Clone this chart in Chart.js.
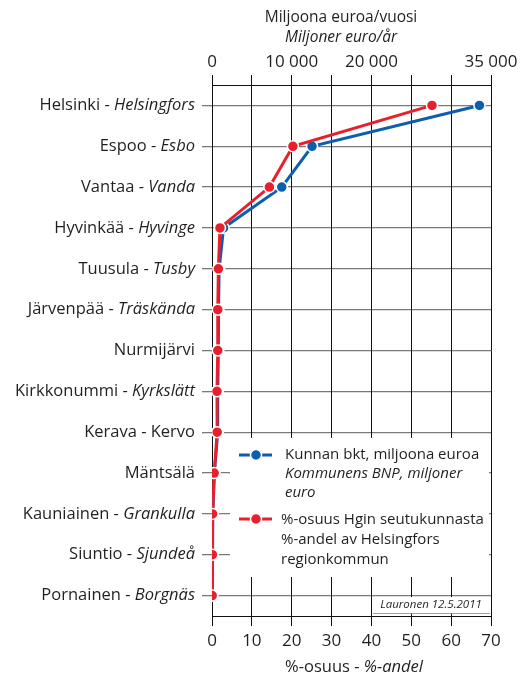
<!DOCTYPE html>
<html>
<head>
<meta charset="utf-8">
<script src="https://cdn.jsdelivr.net/npm/chart.js@4.4.1/dist/chart.umd.min.js"></script>
<style>
  html, body { margin: 0; padding: 0; background: #fff; }
  #wrap { width: 531px; height: 677px; position: relative; }
</style>
</head>
<body>
<div id="wrap"><canvas id="chart"></canvas></div>
<script>
// Kunnat (suomi + ruotsi)
const namesFi = ['Helsinki - ', 'Espoo - ', 'Vantaa - ', 'Hyvinkää - ', 'Tuusula - ', 'Järvenpää - ',
    'Nurmijärvi', 'Kirkkonummi - ', 'Kerava - Kervo', 'Mäntsälä', 'Kauniainen - ', 'Siuntio - ', 'Pornainen - '];
const namesSv = ['Helsingfors', 'Esbo', 'Vanda', 'Hyvinge', 'Tusby', 'Träskända',
    '', 'Kyrkslätt', '', '', 'Grankulla', 'Sjundeå', 'Borgnäs'];

// Kunnan bkt, milj. euroa (yläakseli)
const gdpValues = [33550, 12550, 8750, 1450, 900, 820, 800, 720, 720, 300, 100, 60, 40];
// %-osuus seutukunnasta (alaakseli)
const shareValues = [55.2, 20.3, 14.4, 2.0, 1.6, 1.45, 1.45, 1.25, 1.3, 0.55, 0.15, 0.1, 0.05];

const topTickLabels = [0, 10000, 20000, 35000];
const bottomTicks = [0, 10, 20, 30, 40, 50, 60, 70];

const BLUE = '#0c5fae';
const RED = '#e81f2c';
const TEXT = '#231f20';
const FONT = "'Open Sans', sans-serif";

const fmt = v => String(v).replace(/\B(?=(\d{3})+(?!\d))/g, ' ');

const labels = namesFi.map((f, i) => f + namesSv[i]);

// Extra text + legend drawn by hand (mixed italic)
const extras = {
    id: 'extras',
    beforeDatasetsDraw(chart) {
        const ctx = chart.ctx;
        ctx.save();
        ctx.fillStyle = '#fff';
        ctx.fillRect(230, 438, 259, 139);           // legend box
        ctx.fillRect(373, 597, 117, 16);            // signature box
        ctx.strokeStyle = '#888';
        ctx.lineWidth = 0.8;
        ctx.beginPath();
        ctx.moveTo(373, 613.5);
        ctx.lineTo(490, 613.5);
        ctx.stroke();
        ctx.restore();
    },
    afterDraw(chart) {
        const ctx = chart.ctx;
        const y = chart.scales.y;
        ctx.save();
        ctx.fillStyle = TEXT;
        ctx.textBaseline = 'middle';

        // category labels
        ctx.textAlign = 'right';
        labels.forEach((l, i) => {
            const py = y.getPixelForValue(i);
            ctx.font = 'italic 16.5px ' + FONT;
            const w = ctx.measureText(namesSv[i]).width;
            ctx.fillText(namesSv[i], 195, py);
            ctx.font = '16.5px ' + FONT;
            ctx.fillText(namesFi[i], 195 - w, py);
        });

        // axis titles
        ctx.textAlign = 'center';
        ctx.font = '15.5px ' + FONT;
        ctx.fillText('Miljoona euroa/vuosi', 341, 18);
        ctx.font = 'italic 15.5px ' + FONT;
        ctx.fillText('Miljoner euro/år', 341, 38);

        ctx.textAlign = 'left';
        const a = '%-osuus - ';
        ctx.font = 'italic 16.5px ' + FONT;
        const bw = ctx.measureText('%-andel').width;
        ctx.font = '16.5px ' + FONT;
        const aw = ctx.measureText(a).width;
        const x0 = 354 - (aw + bw) / 2;
        ctx.fillText(a, x0, 667);
        ctx.font = 'italic 16.5px ' + FONT;
        ctx.fillText('%-andel', x0 + aw, 667);

        // signature
        ctx.textAlign = 'center';
        ctx.font = 'italic 11.5px ' + FONT;
        ctx.fillText('Lauronen 12.5.2011', 431, 605);

        // legend
        const sym = (cy, col) => {
            ctx.strokeStyle = col;
            ctx.lineWidth = 3;
            ctx.beginPath();
            ctx.moveTo(239, cy);
            ctx.lineTo(272, cy);
            ctx.stroke();
            ctx.beginPath();
            ctx.arc(256, cy, 5.5, 0, Math.PI * 2);
            ctx.fillStyle = col;
            ctx.fill();
            ctx.strokeStyle = '#fff';
            ctx.lineWidth = 1.5;
            ctx.stroke();
        };
        sym(455, BLUE);
        sym(519, RED);
        ctx.fillStyle = TEXT;
        ctx.textAlign = 'left';
        ctx.font = '15px ' + FONT;
        ctx.fillText('Kunnan bkt, miljoona euroa', 285, 455);
        ctx.font = 'italic 15px ' + FONT;
        ctx.fillText('Kommunens BNP, miljoner', 285, 474);
        ctx.fillText('euro', 285, 493);
        ctx.font = '15px ' + FONT;
        ctx.fillText('%-osuus Hgin seutukunnasta', 281, 520);
        ctx.fillText('%-andel av Helsingfors', 281, 540);
        ctx.fillText('regionkommun', 281, 560);
        ctx.restore();
    }
};

new Chart(document.getElementById('chart'), {
    type: 'line',
    data: {
        labels: labels,
        datasets: [
            {
                label: 'Kunnan bkt, miljoona euroa',
                data: gdpValues,
                xAxisID: 'x2',
                borderColor: BLUE,
                backgroundColor: BLUE,
                borderWidth: 3,
                pointRadius: 5.5,
                pointBorderColor: '#fff',
                pointBorderWidth: 1.5,
                order: 2
            },
            {
                label: '%-osuus Hgin seutukunnasta',
                data: shareValues,
                xAxisID: 'x',
                borderColor: RED,
                backgroundColor: RED,
                borderWidth: 3,
                pointRadius: 5.5,
                pointBorderColor: '#fff',
                pointBorderWidth: 1.5,
                order: 1
            }
        ]
    },
    options: {
        indexAxis: 'y',
        responsive: true,
        maintainAspectRatio: false,
        animation: false,
        layout: { padding: { left: 0, right: 40, top: 0, bottom: 0 } },
        plugins: {
            legend: { display: false },
            tooltip: { enabled: false }
        },
        scales: {
            y: {
                type: 'category',
                offset: true,
                grid: { color: '#7a7a7a', lineWidth: 1.3, offset: false, tickLength: 10 },
                border: { display: false },
                ticks: { display: false },
                afterFit: s => { s.width = 212; }
            },
            x: {
                position: 'bottom',
                min: 0,
                max: 70,
                afterBuildTicks: s => { s.ticks = bottomTicks.map(v => ({ value: v })); },
                grid: { color: '#111', lineWidth: 1, tickLength: 10 },
                border: { color: '#111', width: 1 },
                ticks: { color: TEXT, font: { family: FONT, size: 17 }, padding: 5 },
                afterFit: s => { s.height = 61; }
            },
            x2: {
                position: 'top',
                min: 0,
                max: 35000,
                ticks: {
                    stepSize: 5000,
                    color: TEXT,
                    font: { family: FONT, size: 17 },
                    padding: 3,
                    autoSkip: false,
                    maxRotation: 0,
                    callback: v => topTickLabels.includes(v) ? fmt(v) : ''
                },
                grid: { color: '#111', drawOnChartArea: false, tickLength: 10 },
                border: { color: '#111', width: 1 },
                afterFit: s => { s.height = 85; }
            }
        }
    },
    plugins: [extras]
});
</script>
</body>
</html>
